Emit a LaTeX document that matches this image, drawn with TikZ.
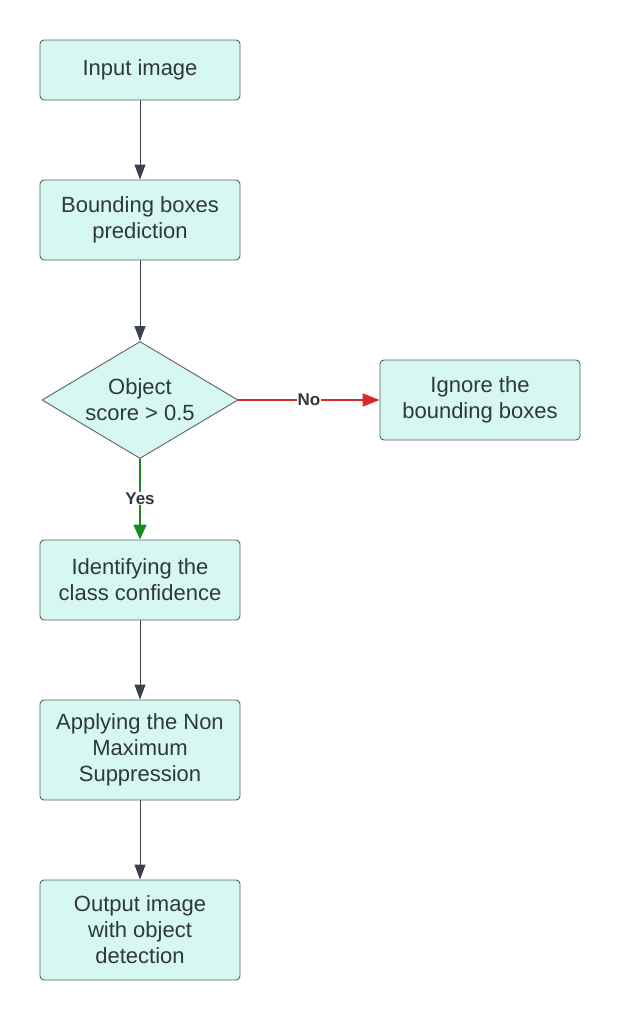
\documentclass[tikz,border=0pt]{standalone}
\usepackage{fontspec}
\setmainfont{Liberation Sans}
\usetikzlibrary{arrows.meta,shapes.geometric}
\definecolor{boxfill}{HTML}{D6F7F2}
\definecolor{boxline}{HTML}{5C6166}
\definecolor{txt}{HTML}{2F383D}
\definecolor{arr}{HTML}{3B414A}
\definecolor{noarr}{HTML}{D92A2A}
\definecolor{yesarr}{HTML}{1A8A22}
\tikzset{
  flowbox/.style={draw=boxline, fill=boxfill, rounded corners=4pt, line width=0.9pt,
    minimum width=200pt, align=center, text=txt, font=\fontsize{22}{26}\selectfont, inner sep=0pt},
  decision/.style={diamond, draw=boxline, fill=boxfill, line width=0.9pt, aspect=1.675,
    minimum width=196pt, minimum height=117pt, align=center, text=txt, font=\fontsize{22}{26}\selectfont, inner sep=0pt},
  conn/.style={draw=arr, line width=1pt, -{Triangle[length=15pt,width=11pt]}},
  lbl/.style={fill=white, font=\bfseries\fontsize{17}{18}\selectfont, text=txt, inner sep=1pt}
}
\begin{document}
\begin{tikzpicture}[x=1pt,y=-1pt]
\useasboundingbox (0,0) rectangle (620,1020);
\fill[white] (0,0) rectangle (620,1020);
\node[flowbox, minimum height=60pt] (n1) at (140,70) {Input image};
\node[flowbox, minimum height=80pt] (n2) at (140,220) {Bounding boxes\\prediction};
\node[decision] (d) at (140,400) {Object\\score > 0.5};
\node[flowbox, minimum height=80pt] (ig) at (480,400) {Ignore the\\bounding boxes};
\node[flowbox, minimum height=80pt] (n3) at (140,580) {Identifying the\\class confidence};
\node[flowbox, minimum height=100pt] (n4) at (140,750) {Applying the Non\\Maximum\\Suppression};
\node[flowbox, minimum height=100pt] (n5) at (140,930) {Output image\\with object\\detection};
\draw[conn] (n1) -- (n2);
\draw[conn] (n2) -- (d);
\draw[conn, draw=noarr, line width=1.8pt, -{Triangle[length=17pt,width=13pt]}] (d.east) -- node[lbl, pos=0.5] {No} (ig.west);
\draw[conn, draw=yesarr, line width=1.8pt, -{Triangle[length=15pt,width=13pt]}] (d.south) -- node[lbl, pos=0.49] {Yes} (n3.north);
\draw[conn] (n3) -- (n4);
\draw[conn] (n4) -- (n5);
\end{tikzpicture}
\end{document}
